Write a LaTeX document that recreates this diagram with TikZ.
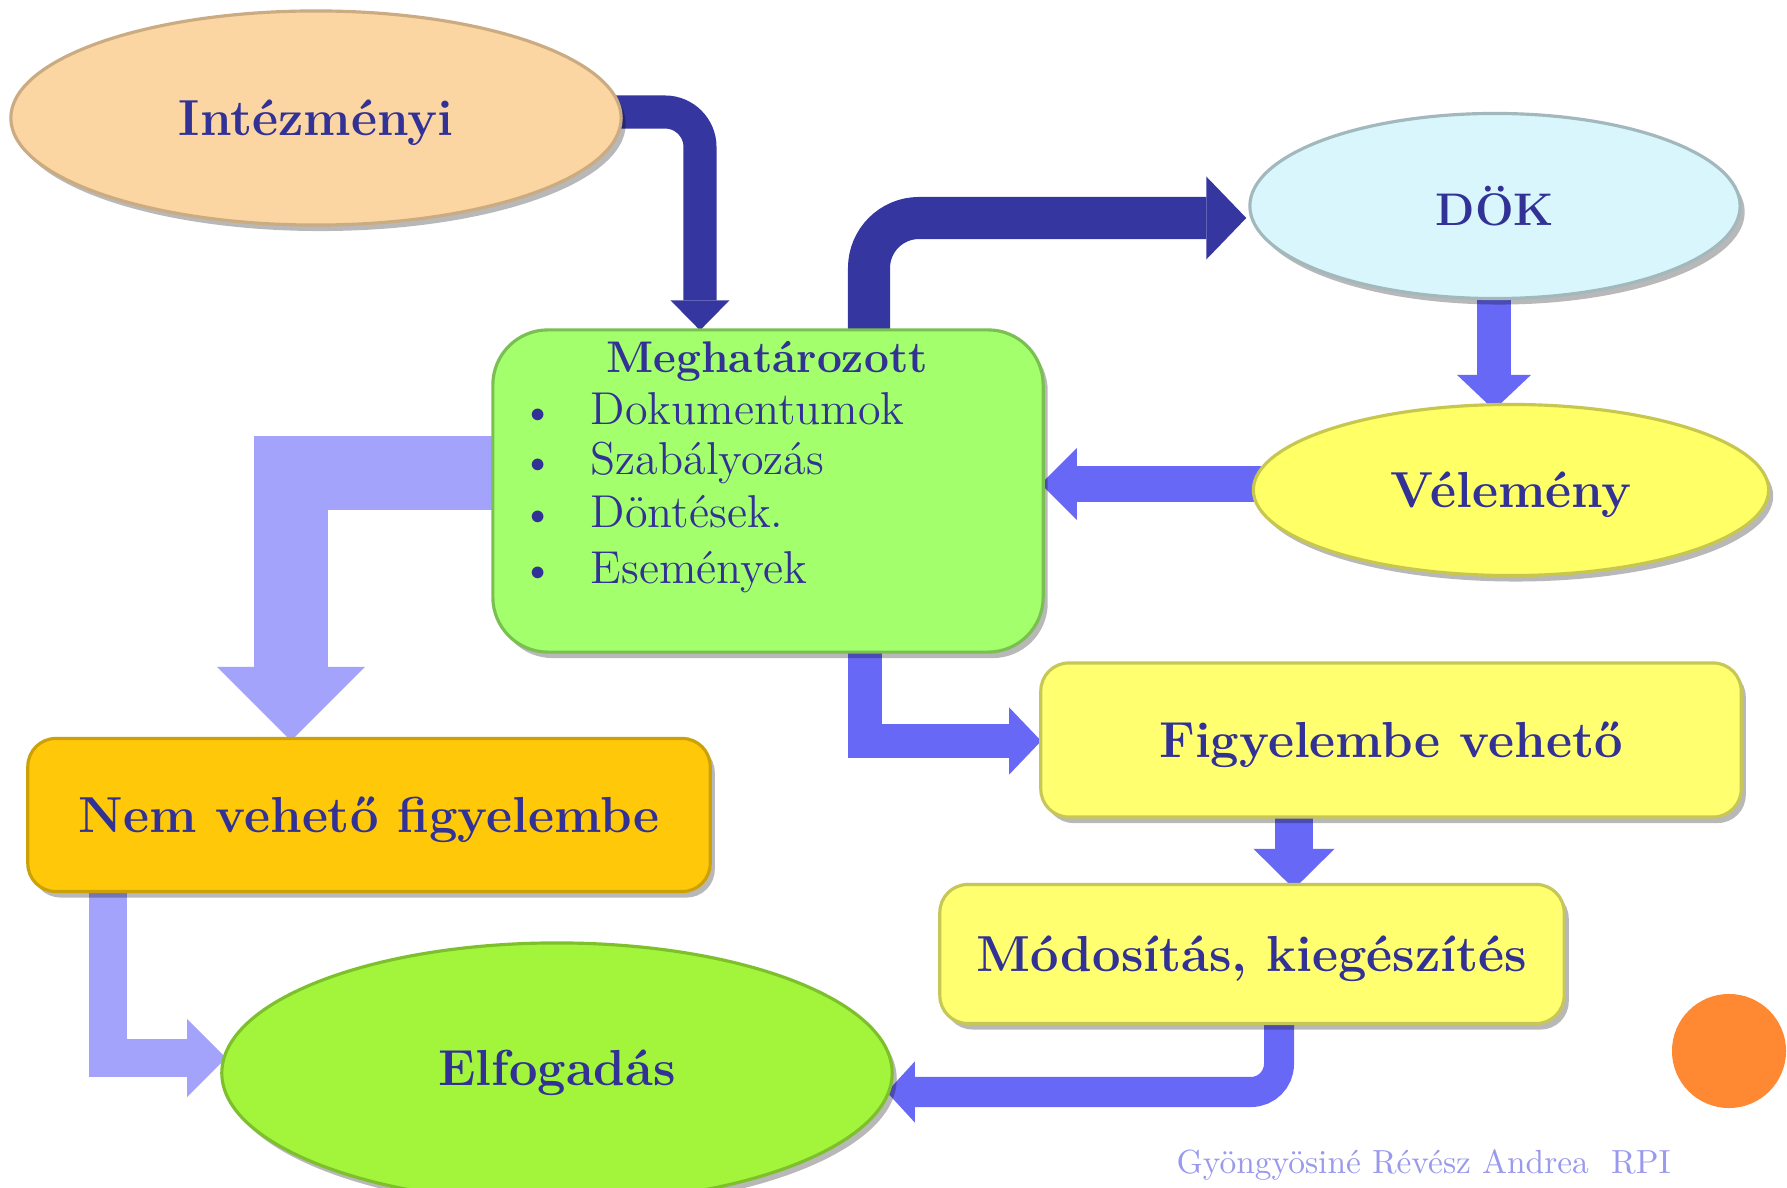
\documentclass[tikz,border=0pt]{standalone}
\usetikzlibrary{shapes.geometric,arrows.meta,calc,shadows}
\definecolor{txtblue}{RGB}{50,50,150}
\definecolor{peachc}{RGB}{252,214,162}
\definecolor{dokc}{RGB}{216,246,251}
\definecolor{yelc}{RGB}{255,255,102}
\definecolor{greenboxc}{RGB}{163,255,108}
\definecolor{goldc}{RGB}{255,201,10}
\definecolor{yelboxc}{RGB}{255,255,112}
\definecolor{limec}{RGB}{162,245,58}
\definecolor{darkarc}{RGB}{54,54,160}
\definecolor{medarc}{RGB}{104,104,246}
\definecolor{lavarc}{RGB}{163,163,252}
\definecolor{orangec}{RGB}{255,136,51}
\definecolor{footc}{RGB}{153,153,238}
\pgfdeclarelayer{bg}
\pgfsetlayers{bg,main}
\newcommand{\lblfont}{\fontsize{14.4pt}{17pt}\selectfont\bfseries}
\newcommand{\ttlfont}{\fontsize{12.6pt}{15pt}\selectfont\bfseries}
\newcommand{\itmfont}{\fontsize{13.1pt}{15pt}\selectfont}
\newcommand{\ftrfont}{\fontsize{9.5pt}{11pt}\selectfont}
\newcommand{\blt}{\makebox[0.63cm][l]{\hspace{0.03cm}\raisebox{0.02cm}{\scalebox{0.72}{$\bullet$}}}}
\tikzset{
  shad/.style={drop shadow={shadow xshift=1.3pt,shadow yshift=-1.7pt,opacity=0.28,fill=black}},
  elnode/.style={ellipse,inner sep=0pt,shad,font=\lblfont,text=txtblue,line width=0.9pt,text depth=0pt},
  boxnode/.style={rectangle,inner sep=0pt,shad,font=\lblfont,text=txtblue,line width=0.9pt,rounded corners=0.28cm,text depth=0pt},
  blk/.style={line cap=butt,line join=miter},
}
\begin{document}
\begin{tikzpicture}[x=0.01cm,y=-0.01cm]
\useasboundingbox (0,0) rectangle (1787,1188);
\begin{pgfonlayer}{bg}
\fill[white] (0,0) rectangle (1787,1188);
\end{pgfonlayer}

% nodes
\node[elnode,fill=peachc,draw=peachc!80!black,minimum width=6.10cm,minimum height=2.14cm] (intez) at (316,118) {Intézményi};
\node[elnode,fill=dokc,draw=dokc!75!black,minimum width=4.90cm,minimum height=1.85cm,font=\fontsize{13pt}{16pt}\selectfont\bfseries] (dok) at (1495,206) {DÖK};
\node[elnode,fill=yelc,draw=yelc!78!black,minimum width=5.15cm,minimum height=1.71cm] (vel) at (1511,490) {Vélemény};
\node[boxnode,fill=greenboxc,draw=greenboxc!75!black,minimum width=5.50cm,minimum height=3.22cm,rounded corners=0.55cm] (megh) at (768,491) {};
\node[boxnode,fill=goldc,draw=goldc!80!black,minimum width=6.82cm,minimum height=1.53cm] (nem) at (369,815) {Nem vehető figyelembe};
\node[boxnode,fill=yelboxc,draw=yelboxc!78!black,minimum width=7.00cm,minimum height=1.54cm] (figy) at (1391,740) {Figyelembe vehető};
\node[boxnode,fill=yelboxc,draw=yelboxc!78!black,minimum width=6.24cm,minimum height=1.39cm] (mod) at (1252,954) {Módosítás, kiegészítés};
\node[elnode,fill=limec,draw=limec!78!black,minimum width=6.70cm,minimum height=2.60cm] (elf) at (557,1073) {};
\node[font=\lblfont,text=txtblue,text depth=0pt] (elft) at (557,1068) {Elfogadás};
\node[circle,fill=orangec,minimum size=1.14cm,inner sep=0pt] (dot) at (1729,1051) {};

% text of the green box
\node[anchor=base,font=\ttlfont,text=txtblue,inner sep=0pt] (mtitle) at (767,373) {Meghatározott};
\node[anchor=base west,font=\itmfont,text=txtblue,inner sep=0pt] (it1) at (527,425) {\blt Dokumentumok};
\node[anchor=base west,font=\itmfont,text=txtblue,inner sep=0pt] (it2) at (527,475) {\blt Szabályozás};
\node[anchor=base west,font=\itmfont,text=txtblue,inner sep=0pt] (it3) at (527,527) {\blt Döntések.};
\node[anchor=base west,font=\itmfont,text=txtblue,inner sep=0pt] (it4) at (527,583) {\blt Események};

% footer
\node[anchor=base west,font=\ftrfont,text=footc,inner sep=0pt] (foot) at (1176,1173) {Gyöngyösiné Révész Andrea\ \ RPI};

% arrows (behind the shapes)
\begin{pgfonlayer}{bg}
% Intezmenyi -> Meghatarozott
\draw[blk,draw=darkarc,line width=0.33cm,rounded corners=0.35cm,
  -{Triangle[width=0.59cm 0 0,length=0.30cm 0 0,line width=0pt 0 0]}]
  ($(intez.east)+(-10,-6)$) -| ($(megh.north)+(-68,2)$);
% Meghatarozott -> DOK
\draw[blk,draw=darkarc,line width=0.42cm,rounded corners=0.5cm,
  -{Triangle[width=0.83cm 0 0,length=0.40cm 0 0,line width=0pt 0 0]}]
  ($(megh.north)+(101,10)$) |- ($(dok.west)+(-2,12)$);
% DOK -> Velemeny
\draw[blk,draw=medarc,line width=0.34cm,
  -{Triangle[width=0.74cm 0 0,length=0.35cm 0 0,line width=0pt 0 0]}]
  ($(dok.south)+(-1,-8)$) -- ($(dok.south |- vel.north)+(-1,7)$);
% Velemeny -> Meghatarozott
\draw[blk,draw=medarc,line width=0.36cm,
  -{Triangle[width=0.72cm 0 0,length=0.36cm 0 0,line width=0pt 0 0]}]
  ($(vel.west)+(10,-6)$) -- ($(vel.west -| megh.east)+(-4,-6)$);
% Meghatarozott -> Nem veheto
\draw[blk,draw=lavarc,line width=0.73cm,
  -{Triangle[width=1.48cm 0 0,length=0.74cm 0 0,line width=0pt 0 0]}]
  ($(megh.west)+(8,-18)$) -| ($(nem.north)+(-78,4)$);
% Meghatarozott -> Figyelembe veheto
\draw[blk,draw=medarc,line width=0.34cm,
  -{Triangle[width=0.67cm 0 0,length=0.32cm 0 0,line width=0pt 0 0]}]
  ($(megh.south)+(97,-8)$) |- ($(figy.west)+(2,1)$);
% Figyelembe veheto -> Modositas
\draw[blk,draw=medarc,line width=0.38cm,
  -{Triangle[width=0.81cm 0 0,length=0.40cm 0 0,line width=0pt 0 0]}]
  ($(figy.south)+(-97,-8)$) -- ($(mod.north)+(42,6)$);
% Modositas -> Elfogadas
\draw[blk,draw=medarc,line width=0.30cm,rounded corners=0.28cm,
  -{Triangle[width=0.61cm 0 0,length=0.28cm 0 0,line width=0pt 0 0]}]
  ($(mod.south)+(27,-8)$) |- ($(elf.east)+(-7,19)$);
% Nem veheto -> Elfogadas
\draw[blk,draw=lavarc,line width=0.37cm,
  -{Triangle[width=0.78cm 0 0,length=0.39cm 0 0,line width=0pt 0 0]}]
  ($(nem.south)+(-261,-8)$) |- ($(elf.west)+(6,-15)$);
\end{pgfonlayer}
\end{tikzpicture}
\end{document}
